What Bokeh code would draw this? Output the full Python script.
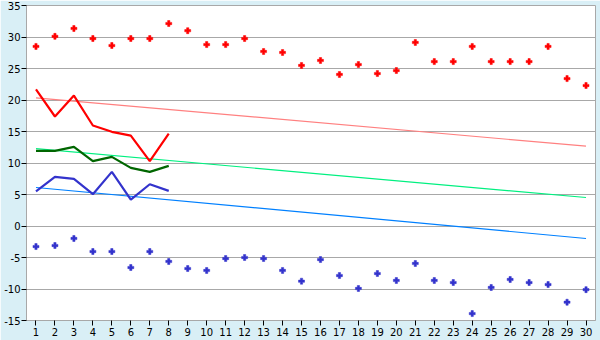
from bokeh.plotting import figure
from bokeh.models import FixedTicker, Range1d
from bokeh.embed import file_html
from bokeh.resources import INLINE

days = list(range(1, 31))
max_points = [28.5, 30.1, 31.35, 29.76, 28.65, 29.76, 29.76, 32.14, 31.0, 28.8,
              28.8, 29.76, 27.7, 27.54, 25.48, 26.27, 24.05, 25.63, 24.2, 24.68,
              29.13, 26.1, 26.1, 28.5, 26.1, 26.1, 26.1, 28.5, 23.4, 22.3]
min_points = [-3.26, -3.1, -1.98, -4.05, -4.05, -6.59, -4.05, -5.63, -6.75, -7.06,
              -5.16, -5.0, -5.16, -7.06, -8.76, -5.32, -7.86, -9.92, -7.54, -8.65,
              -5.95, -8.65, -8.97, -13.9, -9.76, -8.49, -8.97, -9.29, -12.1, -10.1]

line_days = [1, 2, 3, 4, 5, 6, 7, 8]
red_line = [21.67, 17.38, 20.7, 15.95, 14.95, 14.35, 10.29, 14.68]
green_line = [11.92, 11.92, 12.56, 10.29, 10.97, 9.22, 8.59, 9.54]
blue_line = [5.48, 7.79, 7.48, 5.05, 8.59, 4.2, 6.63, 5.57]

trend_days = [1, 30]
red_trend = [20.35, 12.67]
green_trend = [12.27, 4.52]
blue_trend = [6.11, -1.98]

y_ticks = [-15, -10, -5, 0, 5, 10, 15, 20, 25, 30, 35]
y_labels = ["-15", "-10", "-5", "0", "5", "10", "15", "20", "25", "30", "35"]

bg = "#D9EFF6"
grey = "#A8A8A8"

p = figure(width=600, height=340, output_backend="svg", toolbar_location=None,
           x_range=Range1d(0.5, 30.5), y_range=Range1d(-15, 35),
           min_border_left=26, min_border_right=5, min_border_top=5,
           min_border_bottom=20)
p.border_fill_color = bg
p.background_fill_color = "white"
p.outline_line_color = grey
p.outline_line_width = 1

p.xgrid.grid_line_color = None
p.ygrid.grid_line_color = grey
p.ygrid.grid_line_width = 1

p.xaxis.ticker = FixedTicker(ticks=days)
p.yaxis.ticker = FixedTicker(ticks=y_ticks)
p.yaxis.major_label_overrides = dict(zip(y_ticks, y_labels))
for ax in (p.xaxis, p.yaxis):
    ax.axis_line_color = grey
    ax.major_tick_line_color = "black"
    ax.minor_tick_line_color = None
    ax.major_tick_in = 0
    ax.major_tick_out = 5
    ax.major_label_text_font = "DejaVu Sans"
    ax.major_label_text_font_size = "10px"
    ax.major_label_text_color = "black"
    ax.major_label_standoff = 1
p.xaxis.major_tick_out = 5
p.xaxis.major_label_standoff = 2

# trend lines
p.line(trend_days, red_trend, line_color="#FF8080", line_width=1.2)
p.line(trend_days, green_trend, line_color="#00F080", line_width=1.2)
p.line(trend_days, blue_trend, line_color="#0080FF", line_width=1.2)

# data lines
p.line(line_days, red_line, line_color="#FF0000", line_width=2.2)
p.line(line_days, green_line, line_color="#006600", line_width=2.2)
p.line(line_days, blue_line, line_color="#3333CC", line_width=2.2)

# point series
p.scatter(days, max_points, marker="plus", size=6, fill_color="#FF0000",
          line_color="#FF0000", line_width=0.5)
p.scatter(days, min_points, marker="plus", size=6, fill_color="#3333CC",
          line_color="#3333CC", line_width=0.5)

open("out.html", "w").write(file_html(p, INLINE))
